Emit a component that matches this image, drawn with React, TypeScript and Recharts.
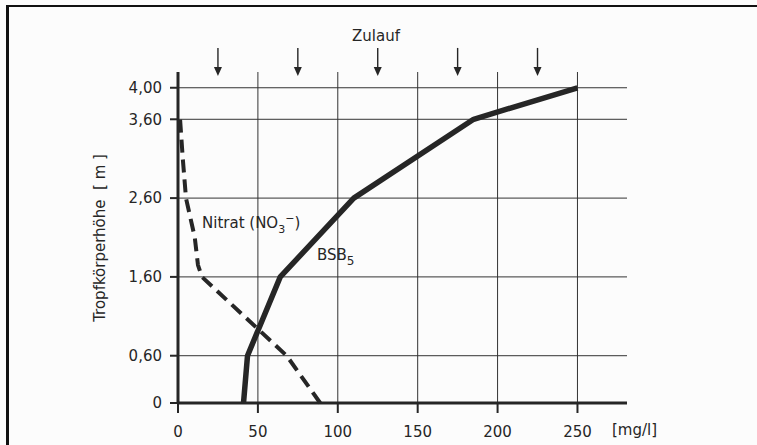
// Tropfkörper profile: BSB5 and nitrate concentration over filter height

import { ComposedChart, Line, Scatter, XAxis, YAxis, CartesianGrid } from 'recharts'

// concentration [mg/l] vs. height [m]
const bsbHeights = [0, 0.6, 1.6, 2.6, 3.6, 4.0]
const bsbValues = [41, 43.5, 64, 110, 185, 250]

const nitratHeights = [0, 0.6, 1.6, 1.75, 2.1, 2.6, 3.1, 3.6]
const nitratValues = [89, 68, 15, 12.5, 10.5, 5, 3, 1.3]

// inflow arrows ("Zulauf") along the top
const inflowPositions = [25, 75, 125, 175, 225]
const inflowHeight = 4.15

const xTicks = [0, 50, 100, 150, 200, 250]
const yTicks = [0, 0.6, 1.6, 2.6, 3.6, 4.0]
const xGrid = [50, 100, 150, 200, 250]
const yGrid = [0.6, 1.6, 2.6, 3.6, 4.0]

const bsbData = bsbHeights.map((h, i) => ({ h, c: bsbValues[i] }))
const nitratData = nitratHeights.map((h, i) => ({ h, c: nitratValues[i] }))
const inflowData = inflowPositions.map((c) => ({ c, h: inflowHeight }))

const ink = '#262626'
const font = '"DejaVu Sans", "Liberation Sans", sans-serif'
const tickStyle = { fill: ink, fontSize: 15, fontFamily: font }

const fmtHeight = (v: number) => (v === 0 ? '0' : v.toFixed(2).replace('.', ','))

const Arrow = (props: any) => {
  const { cx, cy } = props
  return (
    <g>
      <line x1={cx} y1={cy - 28} x2={cx} y2={cy - 6} stroke={ink} strokeWidth={1.4} />
      <polygon points={`${cx - 4},${cy - 9} ${cx + 4},${cy - 9} ${cx},${cy}`} fill={ink} />
    </g>
  )
}

export default function App() {
  return (
    <div
      style={{
        position: 'fixed',
        left: 0,
        top: 0,
        width: 757,
        height: 445,
        background: '#fcfcfc',
        overflow: 'hidden',
        fontFamily: font,
        color: ink,
      }}
    >
      <div
        style={{
          position: 'absolute',
          left: 6,
          top: 5,
          width: 800,
          height: 500,
          borderTop: '2px solid #111',
          borderLeft: '3px solid #111',
        }}
      />
      <ComposedChart
        width={757}
        height={445}
        margin={{ top: 72, right: 130, bottom: 8, left: 118 }}
      >
        <CartesianGrid
          stroke="#333"
          strokeWidth={1}
          horizontalValues={yGrid}
          verticalValues={xGrid}
        />
        <XAxis
          type="number"
          dataKey="c"
          domain={[0, 281]}
          ticks={xTicks}
          height={34}
          tickSize={10}
          tickMargin={13}
          tick={tickStyle}
          axisLine={{ stroke: ink, strokeWidth: 3 }}
          tickLine={{ stroke: ink, strokeWidth: 2 }}
        />
        <YAxis
          type="number"
          dataKey="h"
          domain={[0, 4.2]}
          ticks={yTicks}
          width={60}
          tickSize={8}
          tickMargin={8}
          tickFormatter={fmtHeight}
          tick={tickStyle}
          axisLine={{ stroke: ink, strokeWidth: 3 }}
          tickLine={{ stroke: ink, strokeWidth: 2 }}
        />
        <Line
          data={nitratData}
          dataKey="h"
          stroke={ink}
          strokeWidth={4}
          strokeDasharray="13 7"
          dot={false}
          isAnimationActive={false}
        />
        <Line
          data={bsbData}
          dataKey="h"
          stroke={ink}
          strokeWidth={5.5}
          strokeLinejoin="round"
          dot={false}
          isAnimationActive={false}
        />
        <Scatter data={inflowData} dataKey="h" shape={<Arrow />} isAnimationActive={false} />
      </ComposedChart>

      <div style={{ position: 'absolute', left: 352, top: 27, fontSize: 15 }}>Zulauf</div>
      <div style={{ position: 'absolute', left: 202, top: 214, fontSize: 15, whiteSpace: 'nowrap' }}>
        Nitrat (NO
        <span style={{ fontSize: 11, position: 'relative', top: 5 }}>3</span>
        <span style={{ fontSize: 11, position: 'relative', top: -6 }}>−</span>)
      </div>
      <div style={{ position: 'absolute', left: 317, top: 246, fontSize: 15, whiteSpace: 'nowrap' }}>
        BSB<span style={{ fontSize: 12, position: 'relative', top: 5 }}>5</span>
      </div>
      <div style={{ position: 'absolute', left: 612, top: 421, fontSize: 15, whiteSpace: 'nowrap' }}>
        [mg/l]
      </div>
      <div
        style={{
          position: 'absolute',
          left: 100,
          top: 238,
          fontSize: 15,
          fontWeight: 500,
          whiteSpace: 'pre',
          transform: 'translate(-50%, -50%) rotate(-90deg)',
        }}
      >
        Tropfkörperhöhe  [ m ]
      </div>
    </div>
  )
}
